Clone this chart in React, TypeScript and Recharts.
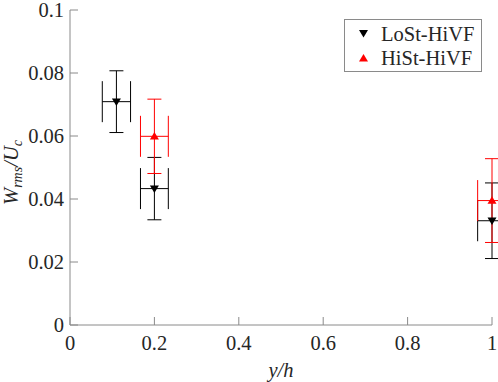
import React from 'react';
import { ScatterChart, Scatter, XAxis, YAxis, ErrorBar, Legend } from 'recharts';

// ---- data ----
const xTicks = [0, 0.2, 0.4, 0.6, 0.8, 1];
const yTicks = [0, 0.02, 0.04, 0.06, 0.08, 0.1];

const loStX = [0.11, 0.2, 1.0];
const loStY = [0.0709, 0.0433, 0.0331];
const loStXErr = [0.0335, 0.033, 0.034];
const loStYErr = [0.0098, 0.0099, 0.012];

const hiStX = [0.2, 1.0];
const hiStY = [0.0599, 0.0395];
const hiStXErr = [0.033, 0.034];
const hiStYErr = [0.0118, 0.0133];

const seriesNames = ['LoSt-HiVF', 'HiSt-HiVF'];
const seriesColors = ['#000000', '#ff0000'];

const loStData = loStX.map((x, i) => ({ x, y: loStY[i], xe: loStXErr[i], ye: loStYErr[i] }));
const hiStData = hiStX.map((x, i) => ({ x, y: hiStY[i], xe: hiStXErr[i], ye: hiStYErr[i] }));

// ---- styling ----
const AXIS = '#8a8a8a';
const TEXT = '#262626';
const FONT = "'Liberation Serif', 'DejaVu Serif', serif";
const FS = 20.5;
const TICK = 8;

const downTri = (p: any) => {
  const { cx, cy, fill } = p;
  return <polygon points={`${cx - 4.5},${cy - 3.2} ${cx + 4.5},${cy - 3.2} ${cx},${cy + 4.3}`} fill={fill} />;
};
const upTri = (p: any) => {
  const { cx, cy, fill } = p;
  return <polygon points={`${cx - 4.5},${cy + 3.2} ${cx + 4.5},${cy + 3.2} ${cx},${cy - 4.3}`} fill={fill} />;
};
const nothing = () => <g />;

const BottomTick = (p: any) => {
  const { x, y, payload } = p;
  return (
    <g>
      <line x1={x} x2={x} y1={y} y2={y - TICK} stroke={AXIS} strokeWidth={1} />
      <text x={x} y={y + 25} textAnchor="middle" fill={TEXT} style={{ fontFamily: FONT, fontSize: FS }}>
        {String(payload.value)}
      </text>
    </g>
  );
};
const LeftTick = (p: any) => {
  const { x, y, payload } = p;
  return (
    <g>
      <line x1={x} x2={x + TICK} y1={y} y2={y} stroke={AXIS} strokeWidth={1} />
      <text x={x - 6} y={y + 7} textAnchor="end" fill={TEXT} style={{ fontFamily: FONT, fontSize: FS }}>
        {String(payload.value)}
      </text>
    </g>
  );
};
const TopTick = (p: any) => {
  const { x, y } = p;
  return <line x1={x} x2={x} y1={y} y2={y + TICK} stroke={AXIS} strokeWidth={1} />;
};
const RightTick = (p: any) => {
  const { x, y } = p;
  return <line x1={x} x2={x - TICK} y1={y} y2={y} stroke={AXIS} strokeWidth={1} />;
};

const XLabel = (p: any) => {
  const { viewBox } = p;
  const cx = viewBox.x + viewBox.width / 2;
  return (
    <text x={cx} y={377} textAnchor="middle" fill={TEXT} style={{ fontFamily: FONT, fontSize: FS, fontStyle: 'italic' }}>
      y/h
    </text>
  );
};
const YLabel = (p: any) => {
  const { viewBox } = p;
  const cy = viewBox.y + viewBox.height / 2 + 5;
  return (
    <text
      transform={`translate(18,${cy}) rotate(-90)`}
      textAnchor="middle"
      fill={TEXT}
      style={{ fontFamily: FONT, fontSize: FS, fontStyle: 'italic' }}
    >
      <tspan>W</tspan>
      <tspan style={{ fontSize: 14 }} dy={4}>rms</tspan>
      <tspan dy={-4}>/U</tspan>
      <tspan style={{ fontSize: 14 }} dy={4}>c</tspan>
    </text>
  );
};

const renderLegend = (props: any) => {
  const payload = (props.payload || [])
    .filter((e: any) => seriesNames.includes(e.value))
    .sort((a: any, b: any) => seriesNames.indexOf(a.value) - seriesNames.indexOf(b.value));
  return (
    <div
      style={{
        border: `1px solid ${AXIS}`,
        background: '#fff',
        width: 138,
        height: 53,
        boxSizing: 'border-box',
        paddingTop: 2,
        fontFamily: FONT,
        fontSize: FS,
        color: TEXT,
      }}
    >
      {payload.map((e: any) => {
        const idx = seriesNames.indexOf(e.value);
        const pts = idx === 0 ? '1,2 10,2 5.5,9.5' : '1,9.5 10,9.5 5.5,2';
        return (
          <div key={e.value} style={{ display: 'flex', alignItems: 'center', height: 24, whiteSpace: 'nowrap' }}>
            <svg width={11} height={12} style={{ marginLeft: 13, marginRight: 12 }}>
              <polygon points={pts} fill={seriesColors[idx]} />
            </svg>
            <span>{e.value}</span>
          </div>
        );
      })}
    </div>
  );
};

export default function App() {
  return (
    <div style={{ width: 498, height: 382, background: '#fff', overflow: 'hidden' }}>
      <style>{'html,body{margin:0;padding:0;overflow:hidden;}'}</style>
      <ScatterChart width={498} height={382} margin={{ top: 10, right: 6, bottom: 0, left: 0 }}>
        <XAxis
          xAxisId="main"
          dataKey="x"
          type="number"
          domain={[0, 1]}
          ticks={xTicks}
          orientation="bottom"
          height={57}
          tickSize={0}
          tickMargin={0}
          tickLine={false}
          axisLine={{ stroke: AXIS }}
          tick={BottomTick}
          interval={0}
          label={{ content: XLabel }}
        />
        <XAxis
          xAxisId="top"
          dataKey="x"
          type="number"
          domain={[0, 1]}
          allowDataOverflow
          ticks={xTicks}
          orientation="top"
          height={0}
          tickSize={0}
          tickMargin={0}
          tickLine={false}
          axisLine={{ stroke: AXIS }}
          tick={TopTick}
          interval={0}
        />
        <XAxis xAxisId="err" dataKey="x" type="number" domain={[0, 1]} allowDataOverflow hide height={0} orientation="top" />
        <YAxis
          yAxisId="left"
          dataKey="y"
          type="number"
          domain={[0, 0.1]}
          ticks={yTicks}
          orientation="left"
          width={70}
          tickSize={0}
          tickMargin={0}
          tickLine={false}
          axisLine={{ stroke: AXIS }}
          tick={LeftTick}
          interval={0}
          label={{ content: YLabel }}
        />
        <YAxis
          yAxisId="right"
          dataKey="y"
          type="number"
          domain={[0, 0.1]}
          allowDataOverflow
          ticks={yTicks}
          orientation="right"
          width={0}
          tickSize={0}
          tickMargin={0}
          tickLine={false}
          axisLine={{ stroke: AXIS }}
          tick={RightTick}
          interval={0}
        />
        <Legend
          layout="vertical"
          align="center"
          verticalAlign="middle"
          content={renderLegend}
          wrapperStyle={{ position: 'absolute', left: 344, top: 19, width: 138, height: 53 }}
        />
        <Scatter
          name="LoSt-HiVF-err"
          data={loStData}
          xAxisId="err"
          yAxisId="left"
          legendType="none"
          shape={nothing}
          isAnimationActive={false}
        >
          <ErrorBar dataKey="xe" direction="x" width={20.5} stroke={seriesColors[0]} strokeWidth={1} isAnimationActive={false} />
          <ErrorBar dataKey="ye" direction="y" width={7} stroke={seriesColors[0]} strokeWidth={1} isAnimationActive={false} />
        </Scatter>
        <Scatter
          name={seriesNames[0]}
          data={loStData}
          xAxisId="main"
          yAxisId="left"
          fill={seriesColors[0]}
          shape={downTri}
          isAnimationActive={false}
        />
        <Scatter
          name="HiSt-HiVF-err"
          data={hiStData}
          xAxisId="err"
          yAxisId="left"
          legendType="none"
          shape={nothing}
          isAnimationActive={false}
        >
          <ErrorBar dataKey="xe" direction="x" width={20.5} stroke={seriesColors[1]} strokeWidth={1} isAnimationActive={false} />
          <ErrorBar dataKey="ye" direction="y" width={7} stroke={seriesColors[1]} strokeWidth={1} isAnimationActive={false} />
        </Scatter>
        <Scatter
          name={seriesNames[1]}
          data={hiStData}
          xAxisId="main"
          yAxisId="left"
          fill={seriesColors[1]}
          shape={upTri}
          isAnimationActive={false}
        />
      </ScatterChart>
    </div>
  );
}
